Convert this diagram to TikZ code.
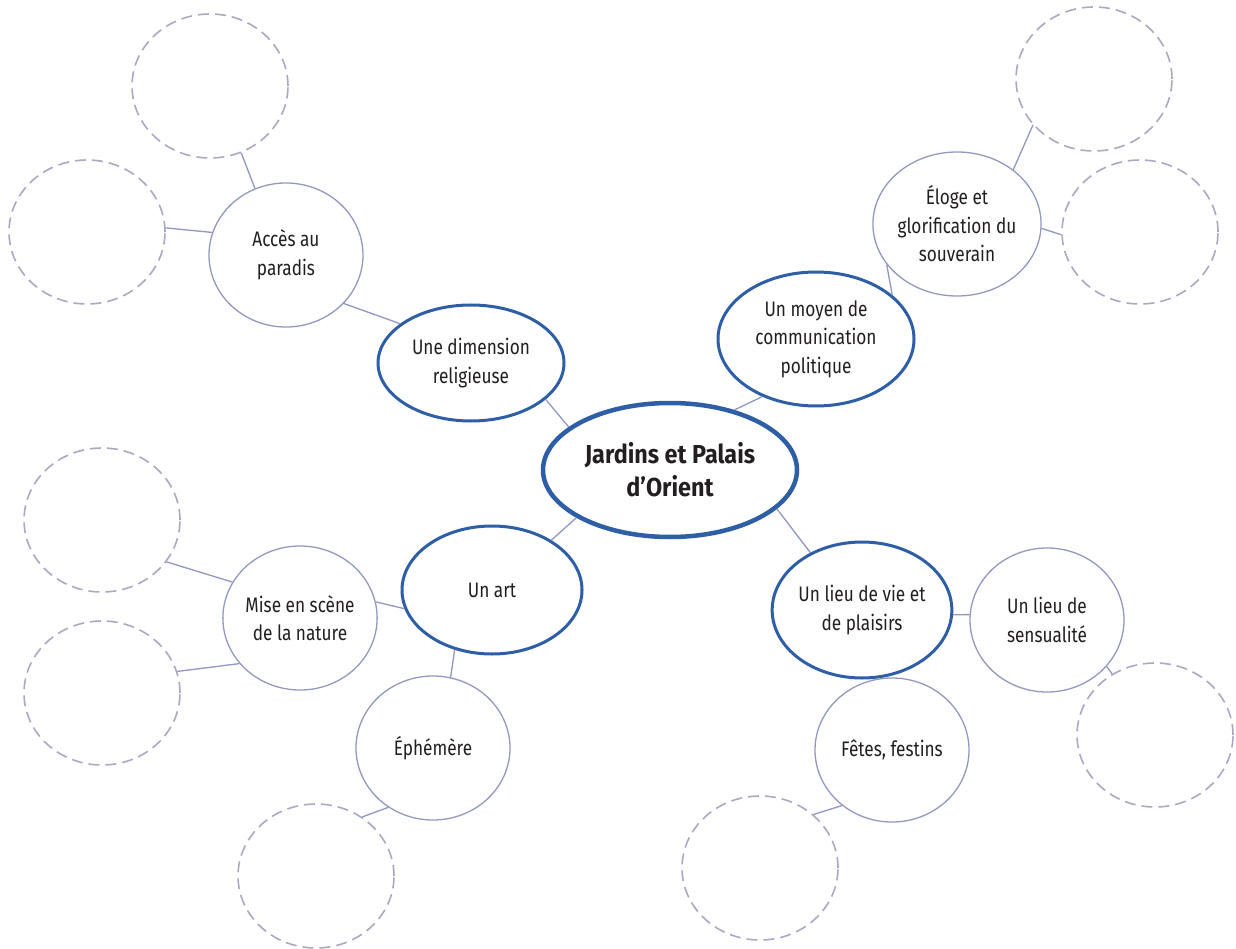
\documentclass[tikz,border=0pt]{standalone}
\usepackage{fontspec}
\setmainfont{Fira Sans}[FakeStretch=0.82]
\newfontfamily\hubfont{Fira Sans}[FakeStretch=0.9]
\usetikzlibrary{shapes.geometric}
\definecolor{mainblue}{HTML}{2E5EA6}
\definecolor{leafline}{HTML}{9298C0}
\definecolor{blankline}{HTML}{ABA8C4}
\definecolor{linkline}{HTML}{8F97C2}
\definecolor{txt}{HTML}{231F20}
\tikzset{
  hub/.style={ellipse, draw=mainblue, line width=4.5pt, fill=white, align=center, inner sep=0pt, text=txt,
    font=\hubfont\bfseries\fontsize{26}{33}\selectfont},
  theme/.style={ellipse, draw=mainblue, line width=3pt, fill=white, align=center, inner sep=0pt, text=txt,
    font=\fontsize{21}{28.5}\selectfont},
  leaf/.style={ellipse, draw=leafline, line width=1.3pt, fill=white, align=center, inner sep=0pt, text=txt,
    minimum width=154pt, minimum height=144pt, font=\fontsize{21}{28.5}\selectfont},
  blank/.style={ellipse, draw=blankline, line width=1.6pt, dash pattern=on 11pt off 6pt, fill=white,
    inner sep=0pt, minimum width=156pt, minimum height=144pt},
  link/.style={draw=linkline, line width=1.3pt}
}
\begin{document}
\begin{tikzpicture}[x=1pt,y=-1pt]
\useasboundingbox (0,0) rectangle (1236,949);
% hub and themes
\node[hub, minimum width=254pt, minimum height=134pt] (C) at (670,470) {Jardins et Palais\\d’Orient};
\node[theme, minimum width=186pt, minimum height=116pt] (R) at (471,363) {Une dimension\\religieuse};
\node[theme, minimum width=196pt, minimum height=134pt] (P) at (816,339) {Un moyen de\\communication\\politique};
\node[theme, minimum width=180pt, minimum height=128pt] (A) at (492,590) {Un art};
\node[theme, minimum width=178pt, minimum height=136pt] (V) at (862,610) {Un lieu de vie et\\de plaisirs};
% leaves
\node[leaf] (L1) at (286,255) {Accès au\\paradis};
\node[leaf] (L2) at (957,224) {Éloge et\\glorification du\\souverain};
\node[leaf] (L3) at (300,618) {Mise en scène\\de la nature};
\node[leaf] (L4) at (433,748) {Éphémère};
\node[leaf] (L5) at (1047,620) {Un lieu de\\sensualité};
\node[leaf] (L6) at (892,750) {Fêtes, festins};
% blanks
\node[blank] (B1) at (210,86) {};
\node[blank] (B2) at (87,232) {};
\node[blank] (B3) at (1094,79) {};
\node[blank] (B4) at (1140,232) {};
\node[blank] (B5) at (102,520) {};
\node[blank] (B6) at (102,693) {};
\node[blank] (B7) at (316,876) {};
\node[blank] (B8) at (1155,735) {};
\node[blank] (B9) at (760,868) {};
% connectors
\path[link] (B1.-65) -- (L1.115);
\path[link] (B2.3) -- (L1.163);
\path[link] (L1.-40) -- (R.151);
\path[link] (R.-26) -- (C.157);
\path[link] (C.43) -- (P.-133);
\path[link] (P.30) -- (L2.-150);
\path[link] (L2.44) -- (B3.-143);
\path[link] (L2.-3) -- (B4.-178);
\path[link] (C.-153) -- (A.40);
\path[link] (C.-20) -- (V.132);
\path[link] (A.-168) -- (L3.12);
\path[link] (B5.-33) -- (L3.152);
\path[link] (B6.16) -- (L3.-143);
\path[link] (A.-122) -- (L4.76);
\path[link] (L4.-127) -- (B7.52);
\path[link] (V.-3) -- (L5.176);
\path[link] (V.-78) -- (L6.101);
\path[link] (L5.-38) -- (B8.125);
\path[link] (L6.-132) -- (B9.45);
\end{tikzpicture}
\end{document}
